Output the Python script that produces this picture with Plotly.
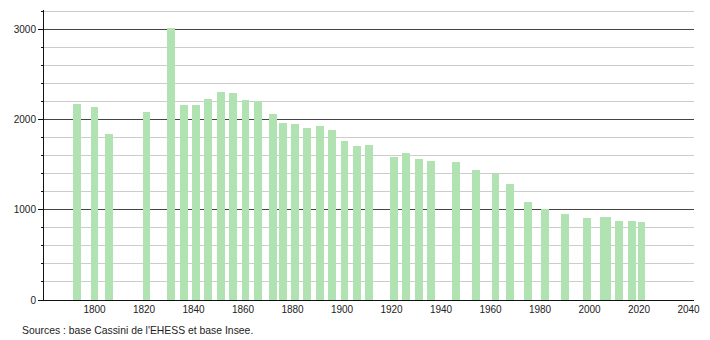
import plotly.graph_objects as go

years = [1793, 1800, 1806, 1821, 1831, 1836, 1841, 1846, 1851, 1856, 1861, 1866,
         1872, 1876, 1881, 1886, 1891, 1896, 1901, 1906, 1911, 1921, 1926, 1931,
         1936, 1946, 1954, 1962, 1968, 1975, 1982, 1990, 1999, 2006, 2007, 2012,
         2017, 2021]
population = [2172, 2142, 1840, 2087, 3022, 2161, 2161, 2228, 2309, 2294, 2224, 2205,
              2061, 1969, 1958, 1910, 1928, 1884, 1770, 1710, 1721, 1588, 1629, 1563,
              1548, 1529, 1441, 1396, 1293, 1086, 1008, 953, 909, 920, 920, 876,
              876, 864]
x_ticks = [1800, 1820, 1840, 1860, 1880, 1900, 1920, 1940, 1960, 1980, 2000, 2020, 2040]
y_ticks = [0, 1000, 2000, 3000]
source_text = "Sources : base Cassini de l'EHESS et base Insee."

fig = go.Figure()
fig.add_trace(go.Bar(x=years, y=population, width=3.2,
                     marker=dict(color="#b1e2b1", line=dict(width=0)),
                     hoverinfo="x+y"))

fig.update_layout(
    width=710, height=340,
    margin=dict(l=44, r=10, t=10, b=40),
    plot_bgcolor="white", paper_bgcolor="white",
    showlegend=False, bargap=0,
    font=dict(family="Liberation Sans, Arial, sans-serif", size=10, color="#222"),
)
fig.update_xaxes(range=[1779.6, 2042.2], tickvals=x_ticks, showgrid=False,
                 showline=True, linecolor="#111", linewidth=1, ticks="",
                 tickfont=dict(size=10), zeroline=False)
fig.update_yaxes(range=[0, 3220], tickvals=y_ticks, showgrid=True,
                 gridcolor="#444", gridwidth=1, showline=True, linecolor="#111",
                 linewidth=1, ticks="outside", ticklen=5, tickcolor="#111",
                 tickfont=dict(size=10), zeroline=False,
                 minor=dict(dtick=200, showgrid=True, gridcolor="#cccccc",
                            gridwidth=1, ticks="outside", ticklen=2,
                            tickcolor="#111"))
fig.add_annotation(text=source_text, xref="paper", yref="paper",
                   x=(20 - 44) / 656, y=-30 / 290, xanchor="left", yanchor="middle",
                   showarrow=False, font=dict(size=10.4, color="#222"))

fig.write_html("out.html")
